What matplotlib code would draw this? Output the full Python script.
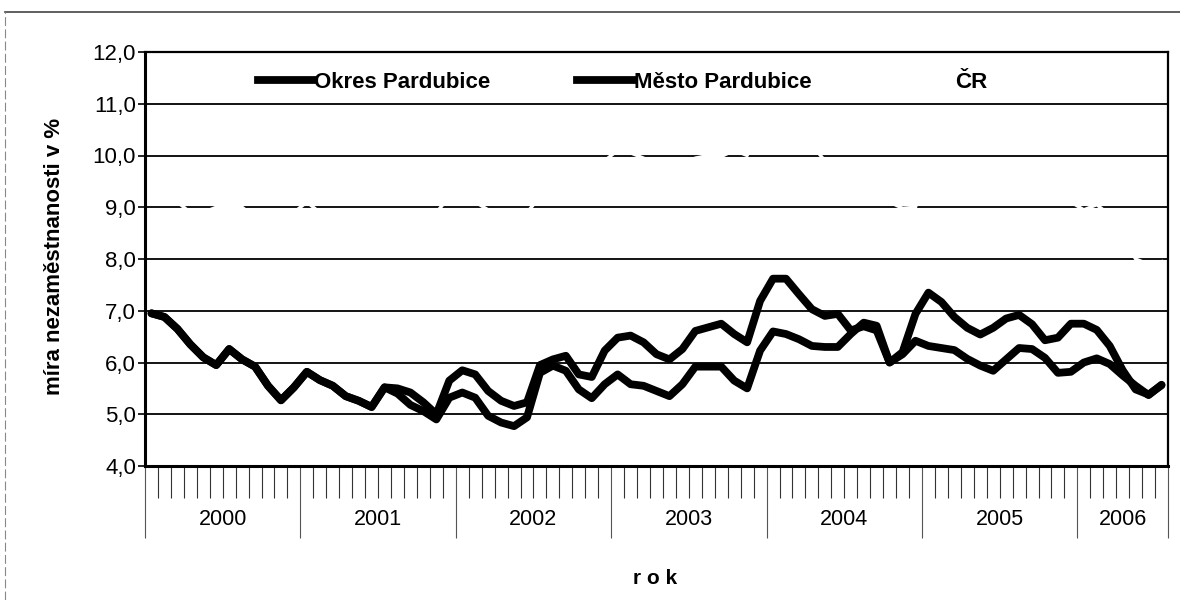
import numpy as np
import matplotlib
matplotlib.use("Agg")
import matplotlib.pyplot as plt
from matplotlib.lines import Line2D
from matplotlib.ticker import FuncFormatter, FixedLocator
import matplotlib.transforms as mtransforms

plt.rcParams['font.family'] = ['Liberation Sans', 'DejaVu Sans']

# monthly values, Jan 2000 - Jul 2006
years = ["2000", "2001", "2002", "2003", "2004", "2005", "2006"]
months_in_year = [12, 12, 12, 12, 12, 12, 7]

okres = [6.95, 6.88, 6.65, 6.35, 6.10, 5.95, 6.26, 6.06, 5.92, 5.55, 5.27, 5.52,
         5.82, 5.66, 5.55, 5.35, 5.26, 5.14, 5.52, 5.50, 5.42, 5.23, 5.00, 5.65,
         5.85, 5.77, 5.45, 5.26, 5.16, 5.23, 5.95, 6.06, 6.13, 5.77, 5.72, 6.23,
         6.48, 6.52, 6.39, 6.16, 6.06, 6.26, 6.61, 6.68, 6.75, 6.55, 6.39, 7.19,
         7.62, 7.62, 7.32, 7.03, 6.90, 6.94, 6.62, 6.70, 6.62, 6.00, 6.20, 6.94,
         7.35, 7.17, 6.88, 6.67, 6.54, 6.67, 6.85, 6.92, 6.74, 6.43, 6.48, 6.75,
         6.75, 6.63, 6.32, 5.85, 5.48, 5.38, 5.56]

mesto = [6.95, 6.88, 6.65, 6.35, 6.10, 5.95, 6.26, 6.06, 5.92, 5.55, 5.27, 5.52,
         5.82, 5.66, 5.55, 5.35, 5.26, 5.14, 5.52, 5.40, 5.18, 5.06, 4.90, 5.32,
         5.42, 5.32, 4.97, 4.84, 4.77, 4.94, 5.80, 5.94, 5.84, 5.48, 5.31, 5.58,
         5.77, 5.58, 5.55, 5.45, 5.35, 5.58, 5.92, 5.92, 5.92, 5.65, 5.50, 6.23,
         6.60, 6.55, 6.45, 6.32, 6.30, 6.30, 6.55, 6.77, 6.71, 6.00, 6.16, 6.42,
         6.32, 6.28, 6.24, 6.07, 5.94, 5.84, 6.06, 6.28, 6.26, 6.09, 5.80, 5.82,
         6.00, 6.08, 5.97, 5.75, 5.55, 5.37, 5.57]

# CR series is printed almost white in the scan, only visible as gaps in the grid
cr = [9.7, 9.5, 9.1, 8.9, 8.9, 9.0, 9.0, 9.0, 8.8, 8.7, 8.7, 8.9,
      9.1, 8.9, 8.7, 8.5, 8.4, 8.5, 8.6, 8.5, 8.4, 8.5, 8.9, 9.2,
      9.4, 9.1, 8.95, 8.9, 8.8, 8.9, 9.2, 9.3, 9.5, 9.4, 9.6, 9.9,
      10.1, 10.05, 9.95, 9.8, 9.8, 9.85, 9.95, 10.0, 9.98, 10.1, 10.0, 10.6,
      10.9, 10.9, 10.6, 10.2, 9.9, 9.8, 9.7, 9.6, 9.4, 9.1, 8.98, 9.0,
      9.8, 9.7, 9.5, 9.3, 9.2, 9.2, 9.3, 9.3, 9.2, 9.1, 9.1, 9.1,
      8.95, 9.05, 8.85, 8.4, 8.0, 7.9, 7.95]

labels = ["Okres Pardubice", "Město Pardubice", "ČR"]

n = len(okres)
x = np.arange(n) + 0.5

fig = plt.figure(figsize=(11.8, 6.0), dpi=100)
ax = fig.add_axes([145 / 1180, 1 - 466 / 600, 1023 / 1180, 414 / 600])

ax.set_ylim(4, 12)
ax.set_xlim(0, n)
ax.set_yticks(np.arange(4, 13, 1))
ax.yaxis.set_major_formatter(FuncFormatter(lambda v, p: f"{v:.1f}".replace(".", ",")))
for v in range(5, 13):
    ax.axhline(v, color="black", lw=1.3, zorder=1)

ax.plot(x, cr, color="white", lw=2.4, zorder=2)
ax.plot(x, okres, color="black", lw=5.6, solid_joinstyle="round",
        solid_capstyle="round", zorder=3)
ax.plot(x, mesto, color="black", lw=5.6, solid_joinstyle="round",
        solid_capstyle="round", zorder=3)

# category axis: month ticks plus year separators
bounds = np.concatenate([[0], np.cumsum(months_in_year)])
ax.xaxis.set_major_locator(FixedLocator(bounds))
ax.xaxis.set_minor_locator(FixedLocator(np.arange(0, n + 1)))
ax.set_xticklabels([])
ax.tick_params(axis="x", which="minor", length=23, width=0.8, color="#333333", direction="out")
ax.tick_params(axis="x", which="major", length=52, width=0.8, color="#555555", direction="out")
ax.tick_params(axis="y", which="major", length=5, width=1.2, labelsize=16, pad=1.5)

trans = mtransforms.blended_transform_factory(ax.transData, ax.transAxes)
for i, yr in enumerate(years):
    ax.text((bounds[i] + bounds[i + 1]) / 2, -0.13, yr, transform=trans,
            ha="center", va="center", fontsize=15.5)

for s in ["left", "bottom"]:
    ax.spines[s].set_linewidth(2.2)
for s in ["top", "right"]:
    ax.spines[s].set_linewidth(1.6)

leg_handles = [Line2D([0], [0], color="black", lw=5.6),
               Line2D([0], [0], color="black", lw=5.6),
               Line2D([0], [0], color="white", lw=5.6)]
ax.legend(leg_handles, labels, ncol=3, frameon=False,
          loc="center left", bbox_to_anchor=(0.110, 0.927),
          prop={"weight": "bold", "size": 16}, handlelength=2.5,
          handletextpad=0.05, columnspacing=3.9, borderpad=0, borderaxespad=0)

fig.text(55 / 1180, 1 - 256 / 600, "míra nezaměstnanosti v %", rotation=90,
         ha="center", va="center", fontsize=16, fontweight="bold")
fig.text(655 / 1180, 1 - 578 / 600, "r o k", ha="center", va="center",
         fontsize=15, fontweight="bold")

# outer frame of the scanned page
fig.add_artist(Line2D([5 / 1180, 1], [1 - 12 / 600, 1 - 12 / 600], color="#444444", lw=1.2))
fig.add_artist(Line2D([5 / 1180, 5 / 1180], [0, 1 - 12 / 600], color="#888888", lw=0.8,
                      linestyle=(0, (8, 3))))

fig.savefig("out.png", dpi=100)
